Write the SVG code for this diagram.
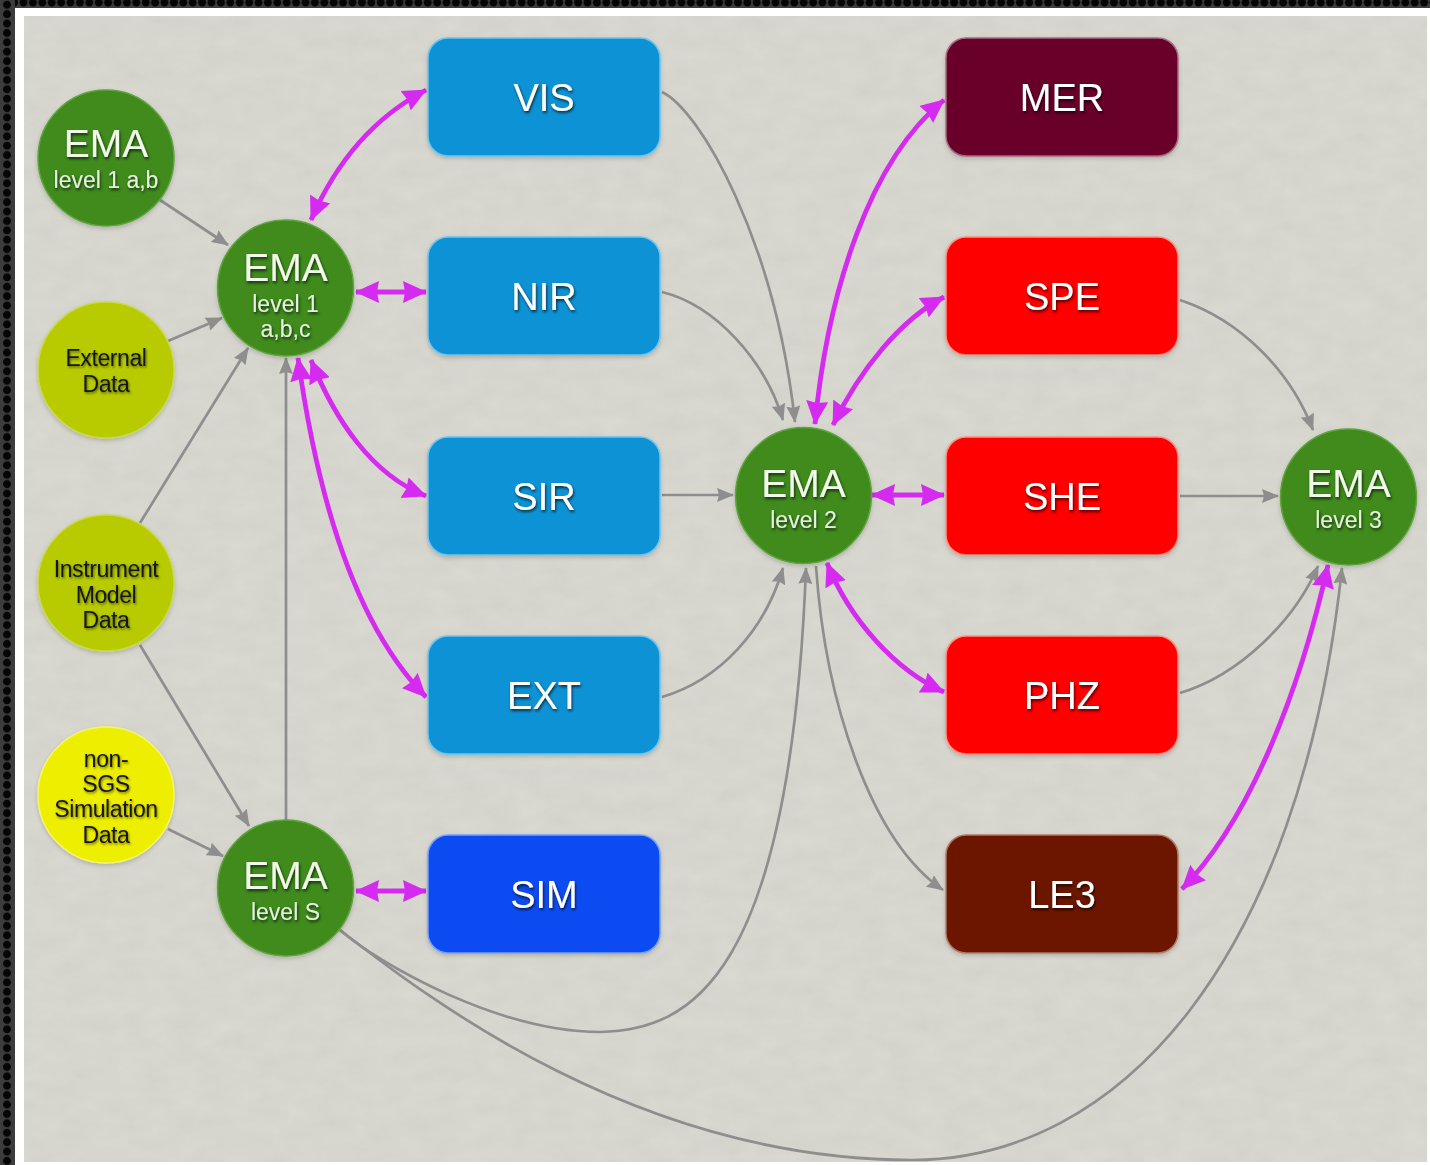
<svg xmlns="http://www.w3.org/2000/svg" width="1430" height="1165" viewBox="0 0 1430 1165">
  <defs>
    <style>
      .box-label { font-family: "Liberation Sans", Arial, sans-serif; font-size: 38px; fill: #ffffff; text-anchor: middle; }
      .ema-title { font-family: "Liberation Sans", Arial, sans-serif; font-size: 39px; fill: #f2fbe9; text-anchor: middle; }
      .ema-sub { font-family: "Liberation Sans", Arial, sans-serif; font-size: 23px; fill: #e6f3dc; text-anchor: middle; }
      .data-label { font-family: "Liberation Sans", Arial, sans-serif; font-size: 23px; fill: #161616; text-anchor: middle; letter-spacing: -0.4px; }
      .ema { fill: #3f8b1f; stroke: #5fa43e; stroke-width: 1.5; }
      .ext { fill: #b7cb04; stroke: #c9d94a; stroke-width: 1.5; }
      .sim-data { fill: #eeee00; stroke: #f5f56a; stroke-width: 1.5; }
      .cyan { fill: #0b93d5; stroke: #6cc3ee; stroke-width: 1.5; }
      .blue { fill: #0a4cf2; stroke: #74a0fa; stroke-width: 1.5; }
      .wine { fill: #68002a; stroke: #a86a7e; stroke-width: 1.5; }
      .red { fill: #ff0000; stroke: #ff9080; stroke-width: 1.5; }
      .brown { fill: #6c1700; stroke: #b07a66; stroke-width: 1.5; }
      .flow { fill: none; stroke: #8e8e8e; stroke-width: 2.7; marker-end: url(#arrow-gray); }
      .link { fill: none; stroke: #d52bf0; stroke-width: 4.8; marker-start: url(#arrow-mag); marker-end: url(#arrow-mag); }
    </style>
    <marker id="arrow-gray" viewBox="0 0 17 14" refX="16" refY="7" markerWidth="17" markerHeight="14" markerUnits="userSpaceOnUse" orient="auto">
      <path d="M0,0 L17,7 L0,14 L2,7 z" fill="#8e8e8e"/>
    </marker>
    <marker id="arrow-mag" viewBox="0 0 24 22" refX="23" refY="11" markerWidth="24" markerHeight="22" markerUnits="userSpaceOnUse" orient="auto-start-reverse">
      <path d="M0,0 L24,11 L0,22 L2,11 z" fill="#d52bf0"/>
    </marker>
    <pattern id="dots-v" x="0" y="0" width="15" height="9.4" patternUnits="userSpaceOnUse">
      <rect width="15" height="9.4" fill="#3c3c3c"/>
      <circle cx="7" cy="4.7" r="4" fill="#050505"/>
    </pattern>
    <pattern id="dots-h" x="0" y="0" width="9.4" height="8" patternUnits="userSpaceOnUse">
      <rect width="9.4" height="8" fill="#3c3c3c"/>
      <circle cx="4.7" cy="2.5" r="4" fill="#050505"/>
    </pattern>
    <filter id="paper" x="0" y="0" width="100%" height="100%">
      <feTurbulence type="fractalNoise" baseFrequency="0.035 0.06" numOctaves="3" seed="7" result="noise"/>
      <feColorMatrix in="noise" type="matrix" values="0 0 0 0 0.45  0 0 0 0 0.45  0 0 0 0 0.42  0 0 0 0.28 -0.06" result="grain"/>
      <feComposite in="grain" in2="SourceGraphic" operator="in" result="grainClip"/>
      <feMerge><feMergeNode in="SourceGraphic"/><feMergeNode in="grainClip"/></feMerge>
    </filter>
    <filter id="light-text" x="-20%" y="-40%" width="140%" height="180%">
      <feDropShadow dx="1" dy="2" stdDeviation="1.4" flood-color="#000000" flood-opacity="0.7"/>
    </filter>
    <filter id="dark-text" x="-20%" y="-40%" width="140%" height="180%">
      <feDropShadow dx="1" dy="1.5" stdDeviation="1.3" flood-color="#000000" flood-opacity="0.5"/>
    </filter>
    <filter id="node-shadow" x="-10%" y="-10%" width="120%" height="125%">
      <feDropShadow dx="0" dy="2" stdDeviation="2" flood-color="#000000" flood-opacity="0.18"/>
    </filter>
  </defs>

  <!-- frame -->
  <rect x="0" y="0" width="1430" height="1165" fill="#ffffff"/>
  <rect x="0" y="0" width="1430" height="8" fill="url(#dots-h)"/>
  <rect x="0" y="0" width="15" height="1165" fill="url(#dots-v)"/>
  <rect x="24" y="16" width="1403" height="1146" fill="#d9d9d1" filter="url(#paper)"/>

  <!-- connectors -->
  <g id="connectors">
    <!-- data flow -->
    <path class="flow" d="M160,200 L228,245"/>
    <path class="flow" d="M168,341 L222,318"/>
    <path class="flow" d="M140,523 L248,348"/>
    <path class="flow" d="M140,645 L249,826"/>
    <path class="flow" d="M168,829 L223,856"/>
    <path class="flow" d="M286,820 L286,358"/>
    <path class="flow" d="M662,92 C700,110 775,240 795,422"/>
    <path class="flow" d="M662,292 C715,305 765,360 783,420"/>
    <path class="flow" d="M662,495 L733,495"/>
    <path class="flow" d="M662,697 C720,680 765,630 783,568"/>
    <path class="flow" d="M340,930 C380,965 500,1032 600,1032 C690,1030 790,980 806,568"/>
    <path class="flow" d="M340,930 C430,1000 640,1160 912,1160 C1120,1160 1300,960 1342,568"/>
    <path class="flow" d="M816,566 C825,700 870,840 943,890"/>
    <path class="flow" d="M1180,300 C1240,320 1290,370 1313,430"/>
    <path class="flow" d="M1180,496 L1278,496"/>
    <path class="flow" d="M1180,693 C1240,675 1295,620 1318,566"/>
    <!-- two-way links -->
    <path class="link" d="M311,220 Q350,130 426,90"/>
    <path class="link" d="M356,292 L426,292"/>
    <path class="link" d="M311,360 C335,420 372,475 426,496"/>
    <path class="link" d="M298,358 C315,480 350,620 426,697"/>
    <path class="link" d="M815,424 C828,290 870,160 944,100"/>
    <path class="link" d="M833,425 C860,370 900,320 944,297"/>
    <path class="link" d="M872,495 L944,495"/>
    <path class="link" d="M827,563 C850,620 895,670 944,692"/>
    <path class="link" d="M1328,565 C1300,690 1250,820 1182,889"/>
    <path class="link" d="M356,891 L426,891"/>
  </g>

  <!-- source circles -->
  <g id="ema-l1ab" filter="url(#node-shadow)">
    <circle class="ema" cx="106" cy="158" r="68"/>
    <g filter="url(#light-text)">
      <text class="ema-title" x="106" y="157">EMA</text>
      <text class="ema-sub" x="106" y="188">level 1 a,b</text>
    </g>
  </g>
  <g id="external-data" filter="url(#node-shadow)">
    <circle class="ext" cx="106" cy="370" r="68"/>
    <g filter="url(#dark-text)">
      <text class="data-label" x="106" y="366">External</text>
      <text class="data-label" x="106" y="392">Data</text>
    </g>
  </g>
  <g id="instrument-model-data" filter="url(#node-shadow)">
    <circle class="ext" cx="106" cy="583" r="68"/>
    <g filter="url(#dark-text)">
      <text class="data-label" x="106" y="577">Instrument</text>
      <text class="data-label" x="106" y="603">Model</text>
      <text class="data-label" x="106" y="628">Data</text>
    </g>
  </g>
  <g id="non-sgs-simulation-data" filter="url(#node-shadow)">
    <circle class="sim-data" cx="106" cy="795" r="68"/>
    <g filter="url(#dark-text)">
      <text class="data-label" x="106" y="767">non-</text>
      <text class="data-label" x="106" y="792">SGS</text>
      <text class="data-label" x="106" y="817">Simulation</text>
      <text class="data-label" x="106" y="843">Data</text>
    </g>
  </g>

  <!-- EMA hubs -->
  <g id="ema-l1abc" filter="url(#node-shadow)">
    <circle class="ema" cx="285.5" cy="288" r="68"/>
    <g filter="url(#light-text)">
      <text class="ema-title" x="285.5" y="281">EMA</text>
      <text class="ema-sub" x="285.5" y="312">level 1</text>
      <text class="ema-sub" x="285.5" y="337">a,b,c</text>
    </g>
  </g>
  <g id="ema-ls" filter="url(#node-shadow)">
    <circle class="ema" cx="285.5" cy="888" r="68"/>
    <g filter="url(#light-text)">
      <text class="ema-title" x="285.5" y="889">EMA</text>
      <text class="ema-sub" x="285.5" y="920">level S</text>
    </g>
  </g>
  <g id="ema-l2" filter="url(#node-shadow)">
    <circle class="ema" cx="803.5" cy="495.5" r="68"/>
    <g filter="url(#light-text)">
      <text class="ema-title" x="803.5" y="497">EMA</text>
      <text class="ema-sub" x="803.5" y="528">level 2</text>
    </g>
  </g>
  <g id="ema-l3" filter="url(#node-shadow)">
    <circle class="ema" cx="1348.5" cy="497" r="68"/>
    <g filter="url(#light-text)">
      <text class="ema-title" x="1348.5" y="497">EMA</text>
      <text class="ema-sub" x="1348.5" y="528">level 3</text>
    </g>
  </g>

  <!-- processing functions, left column -->
  <g id="vis" filter="url(#node-shadow)">
    <rect class="cyan" x="428" y="38" width="232" height="118" rx="20"/>
    <text class="box-label" x="544" y="111" filter="url(#light-text)">VIS</text>
  </g>
  <g id="nir" filter="url(#node-shadow)">
    <rect class="cyan" x="428" y="237" width="232" height="118" rx="20"/>
    <text class="box-label" x="544" y="310" filter="url(#light-text)">NIR</text>
  </g>
  <g id="sir" filter="url(#node-shadow)">
    <rect class="cyan" x="428" y="437" width="232" height="118" rx="20"/>
    <text class="box-label" x="544" y="510" filter="url(#light-text)">SIR</text>
  </g>
  <g id="ext" filter="url(#node-shadow)">
    <rect class="cyan" x="428" y="636" width="232" height="118" rx="20"/>
    <text class="box-label" x="544" y="709" filter="url(#light-text)">EXT</text>
  </g>
  <g id="sim" filter="url(#node-shadow)">
    <rect class="blue" x="428" y="835" width="232" height="118" rx="20"/>
    <text class="box-label" x="544" y="908" filter="url(#light-text)">SIM</text>
  </g>

  <!-- processing functions, right column -->
  <g id="mer" filter="url(#node-shadow)">
    <rect class="wine" x="946" y="38" width="232" height="118" rx="20"/>
    <text class="box-label" x="1062" y="111" filter="url(#light-text)">MER</text>
  </g>
  <g id="spe" filter="url(#node-shadow)">
    <rect class="red" x="946" y="237" width="232" height="118" rx="20"/>
    <text class="box-label" x="1062" y="310" filter="url(#light-text)">SPE</text>
  </g>
  <g id="she" filter="url(#node-shadow)">
    <rect class="red" x="946" y="437" width="232" height="118" rx="20"/>
    <text class="box-label" x="1062" y="510" filter="url(#light-text)">SHE</text>
  </g>
  <g id="phz" filter="url(#node-shadow)">
    <rect class="red" x="946" y="636" width="232" height="118" rx="20"/>
    <text class="box-label" x="1062" y="709" filter="url(#light-text)">PHZ</text>
  </g>
  <g id="le3" filter="url(#node-shadow)">
    <rect class="brown" x="946" y="835" width="232" height="118" rx="20"/>
    <text class="box-label" x="1062" y="908" filter="url(#light-text)">LE3</text>
  </g>
</svg>
